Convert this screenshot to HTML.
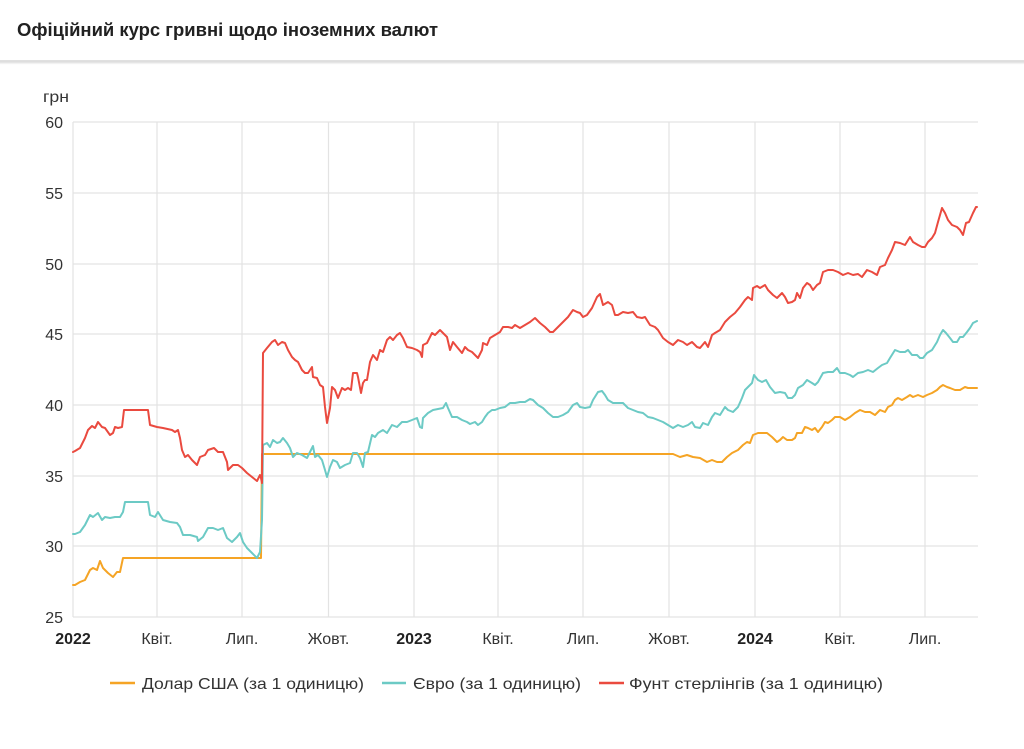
<!DOCTYPE html>
<html><head><meta charset="utf-8"><style>
html,body{margin:0;padding:0;background:#fff;}
svg{display:block;}
text{font-family:"Liberation Sans","DejaVu Sans",sans-serif;}
</style></head><body>
<svg width="1024" height="749" viewBox="0 0 1024 749" xmlns="http://www.w3.org/2000/svg">
<defs><linearGradient id="sh" x1="0" y1="0" x2="0" y2="1"><stop offset="0" stop-color="#d8d8d8"/><stop offset="1" stop-color="#ffffff"/></linearGradient></defs>
<rect width="1024" height="749" fill="#fff"/>
<text x="17" y="36" font-size="18" font-weight="bold" fill="#212121" textLength="421" lengthAdjust="spacingAndGlyphs">Офіційний курс гривні щодо іноземних валют</text>
<rect x="0" y="60" width="1024" height="1.5" fill="#e0e0e0"/>
<rect x="0" y="61.5" width="1024" height="3" fill="url(#sh)"/>

<g stroke="#e3e3e3" stroke-width="1.2" fill="none">
<line x1="73" y1="122" x2="978" y2="122"/>
<line x1="73" y1="193" x2="978" y2="193"/>
<line x1="73" y1="264" x2="978" y2="264"/>
<line x1="73" y1="334" x2="978" y2="334"/>
<line x1="73" y1="405" x2="978" y2="405"/>
<line x1="73" y1="476" x2="978" y2="476"/>
<line x1="73" y1="546" x2="978" y2="546"/>
<line x1="73" y1="617" x2="978" y2="617"/>
<line x1="73" y1="122" x2="73" y2="617"/>
<line x1="157" y1="122" x2="157" y2="617"/>
<line x1="242" y1="122" x2="242" y2="617"/>
<line x1="328.5" y1="122" x2="328.5" y2="617"/>
<line x1="414" y1="122" x2="414" y2="617"/>
<line x1="498" y1="122" x2="498" y2="617"/>
<line x1="583" y1="122" x2="583" y2="617"/>
<line x1="669" y1="122" x2="669" y2="617"/>
<line x1="755" y1="122" x2="755" y2="617"/>
<line x1="840" y1="122" x2="840" y2="617"/>
<line x1="925" y1="122" x2="925" y2="617"/>
</g>

<g font-size="16" fill="#333" text-anchor="end">
<text x="63" y="128">60</text>
<text x="63" y="199">55</text>
<text x="63" y="270">50</text>
<text x="63" y="340">45</text>
<text x="63" y="411">40</text>
<text x="63" y="482">35</text>
<text x="63" y="552">30</text>
<text x="63" y="623">25</text>
</g>
<text x="43" y="102" font-size="16" fill="#333" textLength="26" lengthAdjust="spacingAndGlyphs">грн</text>

<g font-size="16" fill="#333" text-anchor="middle">
<text x="73" y="644" font-weight="bold" fill="#222">2022</text>
<text x="157" y="644">Квіт.</text>
<text x="242" y="644">Лип.</text>
<text x="328.5" y="644">Жовт.</text>
<text x="414" y="644" font-weight="bold" fill="#222">2023</text>
<text x="498" y="644">Квіт.</text>
<text x="583" y="644">Лип.</text>
<text x="669" y="644">Жовт.</text>
<text x="755" y="644" font-weight="bold" fill="#222">2024</text>
<text x="840" y="644">Квіт.</text>
<text x="925" y="644">Лип.</text>
</g>

<g fill="none" stroke-width="2" stroke-linejoin="round" stroke-linecap="round">
<polyline stroke="#F5A425" points="73,585 75,585 80,582 85,580 90,570 93,568 97,570 100,561 103,568 108,573 113,577 117,572 120,572 123,558 261,558 262,454 673,454 680,457 687,455 693,457 700,458 707,462 712,460 717,462 722,462 727,457 732,453 738,450 743,445 747,442 750,443 753,435 758,433 763,433 767,433 772,437 777,442 780,440 783,437 787,440 792,440 795,438 797,433 802,433 805,427 808,428 812,430 815,428 818,432 822,427 825,422 828,423 832,420 835,417 840,417 845,420 850,417 855,413 860,410 865,412 870,412 875,415 880,410 885,412 888,407 892,405 895,400 898,398 902,400 907,397 910,395 913,397 918,395 923,397 927,395 932,393 937,390 940,387 943,385 947,387 950,388 955,390 960,390 965,387 968,388 972,388 975,388 977,388"/>
<polyline stroke="#6CCAC5" points="73,534 75,534 80,532 85,525 90,515 93,517 98,513 102,520 105,517 110,518 115,517 120,517 123,512 125,502 148,502 150,515 155,517 158,512 163,520 170,522 177,523 180,527 183,535 190,535 197,537 198,541 203,537 208,528 213,528 218,530 223,528 227,538 232,542 237,537 240,533 243,542 247,548 252,553 257,558 260,552 262,520 263,445 267,443 270,447 273,440 277,443 280,442 283,438 287,443 290,448 293,457 297,453 302,455 307,458 310,452 313,446 315,457 318,455 322,460 325,470 327,477 330,467 333,460 337,462 340,468 345,465 350,463 353,453 357,453 360,458 363,467 365,453 368,452 372,435 375,437 378,433 383,430 387,433 392,425 397,427 402,422 407,422 412,420 417,418 420,427 422,428 423,418 428,413 433,410 438,409 443,408 446,403 448,408 452,417 457,417 462,420 467,422 470,424 475,422 478,425 482,422 485,417 488,413 492,410 495,410 500,408 505,407 510,403 515,403 520,402 525,402 530,399 533,400 538,405 543,408 548,413 553,417 558,417 563,415 568,412 573,405 577,403 580,407 585,408 590,407 593,400 598,392 602,391 605,395 608,400 613,403 618,403 623,403 628,408 633,410 638,412 643,413 648,417 653,418 658,420 663,422 668,425 673,428 678,425 683,427 688,425 692,422 695,427 700,428 703,423 708,425 712,417 715,413 720,415 725,407 728,410 733,412 738,407 742,398 745,390 748,387 752,383 754,375 758,380 762,382 766,380 770,387 775,393 780,392 785,393 788,398 792,398 795,395 798,388 803,385 807,380 812,383 815,385 818,382 823,373 828,372 833,372 837,368 840,373 845,373 850,375 853,377 858,373 863,372 868,370 873,372 878,368 882,365 887,363 890,358 895,350 900,352 905,352 908,350 912,355 917,355 920,358 923,358 927,353 932,350 937,342 940,335 943,330 946,333 950,338 953,342 957,342 960,337 963,337 967,332 970,328 973,323 977,321"/>
<polyline stroke="#EA4A3F" points="73,452 75,451 80,448 85,438 88,430 92,426 95,428 98,422 102,427 105,428 110,435 113,433 115,427 118,428 122,427 124,410 148,410 150,425 157,427 163,428 172,430 175,432 178,430 180,438 182,450 185,457 188,455 192,460 197,465 200,457 205,455 208,450 214,448 218,452 223,452 227,462 228,470 233,465 238,465 242,468 247,473 252,477 257,481 260,475 261,478 262,483 263,353 267,348 272,342 275,340 278,345 282,342 285,343 288,350 292,357 295,360 298,362 302,370 305,373 308,373 312,367 313,377 317,378 320,385 323,387 325,407 327,423 330,408 332,387 335,390 338,398 342,388 345,390 348,388 351,390 353,373 357,373 358,377 361,393 363,383 365,380 367,380 370,362 373,355 377,360 380,350 383,352 387,340 390,337 393,340 397,335 400,333 403,338 407,347 412,348 417,350 420,352 422,357 423,345 427,343 432,333 435,335 440,330 443,333 447,337 450,350 453,342 457,347 462,353 465,347 468,350 472,352 475,355 478,358 482,350 483,343 487,345 490,338 495,335 500,332 503,327 508,327 512,328 515,325 520,328 525,325 530,322 535,318 540,323 545,327 550,332 553,332 558,327 563,322 568,317 573,310 577,312 580,313 583,317 587,315 592,308 597,297 600,294 603,305 608,302 612,305 615,315 618,315 623,312 628,313 633,312 637,317 642,318 645,317 650,325 655,327 658,330 663,338 668,342 673,345 678,340 683,342 687,345 692,342 697,347 700,348 705,342 708,347 712,335 715,333 720,330 725,322 730,317 735,313 740,307 745,300 748,297 752,300 753,288 757,286 760,288 765,285 768,290 773,295 777,298 782,293 785,297 788,303 792,302 795,300 797,293 800,298 803,288 807,283 810,285 813,290 817,285 820,283 823,272 828,270 833,270 838,272 843,275 848,273 853,275 858,274 862,277 867,270 872,272 877,275 880,267 885,265 888,258 892,250 895,242 900,243 905,245 910,237 913,242 918,245 922,247 925,247 928,242 932,238 935,233 938,222 942,208 945,213 948,220 952,225 957,227 960,230 963,235 966,223 969,222 973,213 976,207 977,207"/>
</g>

<g stroke-width="2.5">
<line x1="110" y1="683" x2="135" y2="683" stroke="#F5A425"/>
<line x1="382" y1="683" x2="406" y2="683" stroke="#6CCAC5"/>
<line x1="599" y1="683" x2="624" y2="683" stroke="#EA4A3F"/>
</g>
<g font-size="16" fill="#333">
<text x="142" y="689" textLength="222" lengthAdjust="spacingAndGlyphs">Долар США (за 1 одиницю)</text>
<text x="413" y="689" textLength="168" lengthAdjust="spacingAndGlyphs">Євро (за 1 одиницю)</text>
<text x="629" y="689" textLength="254" lengthAdjust="spacingAndGlyphs">Фунт стерлінгів (за 1 одиницю)</text>
</g>
</svg>
</body></html>
